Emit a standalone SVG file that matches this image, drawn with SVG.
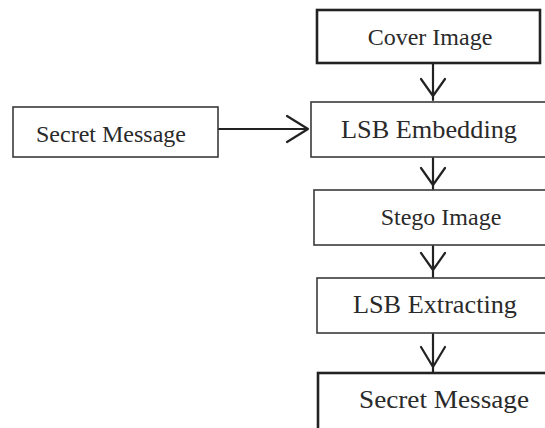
<svg xmlns="http://www.w3.org/2000/svg" width="545" height="428" viewBox="0 0 545 428">
<style>
.box{fill:#fff;stroke:#3a3a3a;stroke-width:1.6}
.thick{fill:#fff;stroke:#222;stroke-width:2.6}
.lbl{font-family:"Liberation Serif","Times New Roman",serif;font-size:24px;fill:#2a2a2a;text-anchor:middle}
.big{font-size:25.5px}
.ln{fill:none;stroke:#222;stroke-width:2.2;stroke-linecap:round;stroke-linejoin:round}
</style>
<rect width="545" height="428" fill="#fff"/>
<g id="connectors">
<path class="ln" d="M433 64V100M421 79L433 96L445 79"/>
<path class="ln" d="M218 129H308M287 116L308 129L287 142"/>
<path class="ln" d="M433 158V189M421 168L433 185L445 168"/>
<path class="ln" d="M433 246V277M421 253L433 270L445 253"/>
<path class="ln" d="M433 334V372M421 347L433 367L445 347"/>
</g>
<g id="cover"><rect class="thick" x="317" y="10" width="223" height="53"/><text class="lbl" x="430" y="45">Cover Image</text></g>
<g id="secret-in"><rect class="box" x="13" y="107" width="205" height="50"/><text class="lbl" x="111" y="142">Secret Message</text></g>
<g id="embed"><rect class="box" x="311" y="102" width="240" height="55"/><text class="lbl big" x="429" y="138" textLength="176" lengthAdjust="spacingAndGlyphs">LSB Embedding</text></g>
<g id="stego"><rect class="box" x="314" y="190" width="240" height="55"/><text class="lbl" x="441" y="225">Stego Image</text></g>
<g id="extract"><rect class="box" x="317" y="278" width="240" height="55"/><text class="lbl big" x="435" y="313" textLength="164" lengthAdjust="spacingAndGlyphs">LSB Extracting</text></g>
<g id="secret-out"><rect class="thick" x="318" y="373" width="240" height="60"/><text class="lbl big" x="444" y="408" textLength="170" lengthAdjust="spacingAndGlyphs">Secret Message</text></g>
</svg>
